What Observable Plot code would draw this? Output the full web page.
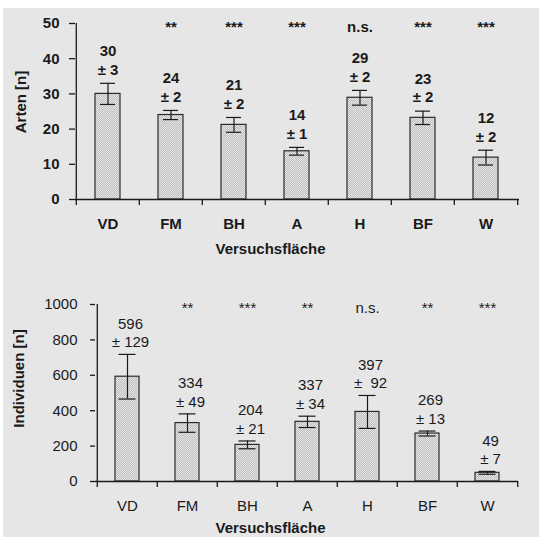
<!DOCTYPE html>
<html><head><meta charset="utf-8">
<script src="https://cdn.jsdelivr.net/npm/d3@7"></script>
<script src="https://cdn.jsdelivr.net/npm/@observablehq/plot@0.6"></script>
<style>
html,body{margin:0;padding:0;background:#fff;}
#panel{position:absolute;left:3px;top:8px;width:536px;height:529px;background:#e6e6e7;overflow:hidden;}
#panel svg{display:block;}
</style></head><body><div id="panel"></div>
<script>
// ---- data ----
const categories = ["VD", "FM", "BH", "A", "H", "BF", "W"];

// top panel: Arten [n]
const artenMean = [30, 24, 21.2, 13.7, 28.9, 23.2, 11.9];
const artenErr = [3, 1.3, 2.1, 1.1, 2.1, 1.9, 2.1];
const artenMeanLabels = ["30", "24", "21", "14", "29", "23", "12"];
const artenErrLabels = ["± 3", "± 2", "± 2", "± 1", "± 2", "± 2", "± 2"];
const artenSig = ["", "**", "***", "***", "n.s.", "***", "***"];
const artenTicks = [0, 10, 20, 30, 40, 50];

// bottom panel: Individuen [n]
const indivMean = [592, 330, 207, 337, 393, 271, 49];
const indivErr = [126, 52, 22, 32, 93, 14, 8];
const indivMeanLabels = ["596", "334", "204", "337", "397", "269", "49"];
const indivErrLabels = ["± 129", "± 49", "± 21", "± 34", "±\u00a0 92", "± 13", "± 7"];
const indivSig = ["", "**", "***", "**", "n.s.", "**", "***"];
const indivTicks = [0, 200, 400, 600, 800, 1000];

const xTitle = "Versuchsfläche";

const W = 536;
const ink = "#1a1a1a";

function addPattern(svg, id) {
  const ns = "http://www.w3.org/2000/svg";
  const defs = document.createElementNS(ns, "defs");
  const p = document.createElementNS(ns, "pattern");
  p.setAttribute("id", id);
  p.setAttribute("patternUnits", "userSpaceOnUse");
  p.setAttribute("width", 2); p.setAttribute("height", 2);
  const mk = (x, y, w, h, f) => {
    const r = document.createElementNS(ns, "rect");
    r.setAttribute("x", x); r.setAttribute("y", y);
    r.setAttribute("width", w); r.setAttribute("height", h);
    r.setAttribute("fill", f); p.appendChild(r);
  };
  mk(0, 0, 2, 2, "#e6e6e6");
  mk(0, 0, 1, 1, "#bdbdbd");
  mk(1, 1, 1, 1, "#bdbdbd");
  defs.appendChild(p);
  svg.insertBefore(defs, svg.firstChild);
}

function makePanel(o) {
  const step = (W - o.ml - o.mr) / categories.length;
  const frameH = o.height - o.mt - o.mb;
  const rows = categories.map((c, i) => ({
    cat: c, mean: o.means[i], lo: o.means[i] - o.errs[i], hi: o.means[i] + o.errs[i],
    ml: o.meanLabels[i], el: o.errLabels[i], sig: o.sig[i]
  }));
  const fw = o.bold ? "bold" : "normal";
  const svg = Plot.plot({
    width: W, height: o.height,
    marginLeft: o.ml, marginRight: o.mr, marginTop: o.mt, marginBottom: o.mb,
    style: {background: "transparent", fontFamily: "'Liberation Sans', Arial, sans-serif",
            fontSize: "15px", fontWeight: fw, color: ink, overflow: "visible"},
    x: {domain: categories, paddingInner: 0.6, paddingOuter: 0.3, axis: null},
    y: {domain: o.yDomain, axis: null},
    marks: [
      Plot.barY(rows, {x: "cat", y: "mean", fill: `url(#${o.id})`, stroke: "#2a2a2a", strokeWidth: 1.2}),
      Plot.ruleX(rows, {x: "cat", y1: "lo", y2: "hi", stroke: ink, strokeWidth: 1.2}),
      Plot.tickY(rows, {x: "cat", y: "lo", insetLeft: o.capInset, insetRight: o.capInset, stroke: ink, strokeWidth: 1.2}),
      Plot.tickY(rows, {x: "cat", y: "hi", insetLeft: o.capInset, insetRight: o.capInset, stroke: ink, strokeWidth: 1.2}),
      Plot.ruleY([0], {stroke: ink, strokeWidth: 1.3}),
      Plot.ruleX(categories, {x: d => d, dx: -step / 2, insetTop: frameH, insetBottom: -6, stroke: ink, strokeWidth: 1.3}),
      Plot.ruleX([categories[categories.length - 1]], {x: d => d, dx: step / 2, insetTop: frameH, insetBottom: -6, stroke: ink, strokeWidth: 1.3}),
      Plot.ruleX([categories[0]], {x: d => d, dx: -step / 2, stroke: ink, strokeWidth: 1.3}),
      Plot.axisY({ticks: o.yTicks, tickSize: o.tickSize, tickPadding: o.tickPadding, tickFormat: d => String(d), label: null, strokeWidth: 1.3}),
      Plot.axisX({tickSize: 0, tickPadding: o.xPad, label: null}),
      Plot.text(rows, {x: "cat", y: "hi", text: "ml", dy: o.dy1, dx: o.labelDx}),
      Plot.text(rows, {x: "cat", y: "hi", text: "el", dy: o.dy2, dx: o.labelDx}),
      Plot.text(rows, {x: "cat", y: () => o.yDomain[1], text: "sig", dy: 4}),
      Plot.text([o.yTitle], {frameAnchor: "left", textAnchor: "middle", lineAnchor: "middle", rotate: -90, dx: o.yTitleDx, dy: o.yTitleDy, fontWeight: "bold"}),
      Plot.text([xTitle], {frameAnchor: "bottom", lineAnchor: "middle", dx: o.xTitleDx, dy: o.xTitleDy, fontWeight: "bold"})
    ]
  });
  addPattern(svg, o.id);
  return svg;
}

const panelEl = document.getElementById("panel");
panelEl.appendChild(makePanel({
  id: "stippleTop", means: artenMean, errs: artenErr, meanLabels: artenMeanLabels, errLabels: artenErrLabels,
  sig: artenSig, yDomain: [0, 50], yTicks: artenTicks, height: 256, ml: 72, mr: 20, mt: 15, mb: 65,
  bold: true, capInset: 5, tickSize: 6, tickPadding: 10, xPad: 19, dy1: -32, dy2: -13.5, labelDx: 0,
  yTitle: "Arten [n]", yTitleDx: -54.5, yTitleDy: -9.5, xTitleDx: -27, xTitleDy: 50
}));
panelEl.appendChild(makePanel({
  id: "stippleBottom", means: indivMean, errs: indivErr, meanLabels: indivMeanLabels, errLabels: indivErrLabels,
  sig: indivSig, yDomain: [0, 1000], yTicks: indivTicks, height: 273, ml: 92, mr: 21, mt: 40, mb: 56,
  bold: false, capInset: 3.5, tickSize: 5, tickPadding: 13, xPad: 19, dy1: -30.5, dy2: -12, labelDx: 3,
  yTitle: "Individuen [n]", yTitleDx: -76, yTitleDy: -14.5, xTitleDx: -36.5, xTitleDy: 46.5
}));
</script>
</body></html>
